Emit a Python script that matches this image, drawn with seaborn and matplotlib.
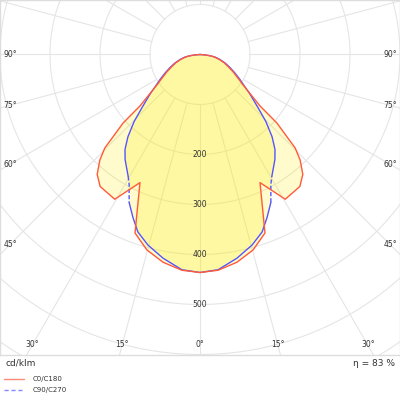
import numpy as np
import pandas as pd
import matplotlib
matplotlib.use("Agg")
import matplotlib.pyplot as plt
from matplotlib.lines import Line2D
import seaborn as sns

# Luminous intensity (cd/klm), gamma in degrees from nadir.
# Both planes look symmetric, so one half is listed and mirrored.
gamma_c0 = [0, 4.8, 10.1, 15.2, 20.0, 25.1, 30.5, 37.1, 40.6, 43.5, 45.5, 48.3, 49.4,
            55, 58, 62, 66.6, 71.2, 76, 80.5, 83.2, 85, 90]
cd_c0 = [436, 433, 422, 405, 380, 283, 336, 331, 316, 291, 267, 206, 158,
         104, 90, 76, 62, 51, 39, 28, 19, 9.5, 0]

gamma_c90 = [0, 4.8, 10.3, 15.3, 19.3, 22.3, 25.6, 28.6, 30.5, 35.5, 38.3, 41.2, 44.5,
             47.9, 51.7, 54.2, 58, 62.1, 66.6, 71.2, 76, 80.5, 83.2, 85, 90]
cd_c90 = [436, 432, 414, 395, 376, 353, 328, 296, 283, 258, 242, 219, 188,
          154, 127, 111, 94, 79, 65, 53, 41, 30, 20, 10, 0]

ring_values = [100, 200, 300, 400, 500, 600, 700]
ring_labels = [200, 300, 400, 500]
side_angles = [90, 75, 60, 45]
bottom_angles = [30, 15, 0]
eta = 83

RED = "#ff5a3c"
BLUE = "#5555ff"
GRID = "#e5e5e5"
TXT = "#333333"
# the long straight stretch of C90/C270 shows its dashes, the rest looks solid
C90_DASH_RANGE = (25, 31)


def to_xy(gamma, cd):
    g = np.radians(np.array(gamma, dtype=float))
    i = np.array(cd, dtype=float)
    x_right = i * np.sin(g)
    y = -i * np.cos(g)
    x = np.concatenate([-x_right[::-1], x_right[1:]])
    yy = np.concatenate([y[::-1], y[1:]])
    gg = np.concatenate([np.array(gamma)[::-1], np.array(gamma)[1:]])
    return pd.DataFrame({"x": x, "y": yy, "gamma": gg})


def split_segments(df, lo, hi):
    # one unit per run of segments; runs fully inside [lo, hi] are dashed
    rows = []
    seg = 0
    prev_kind = None
    for k in range(len(df) - 1):
        g0, g1 = df["gamma"].iloc[k], df["gamma"].iloc[k + 1]
        kind = "dash" if (lo <= g0 <= hi and lo <= g1 <= hi) else "solid"
        if kind != prev_kind:
            seg += 1
            rows.append({"x": df["x"].iloc[k], "y": df["y"].iloc[k], "seg": seg, "kind": kind})
        rows.append({"x": df["x"].iloc[k + 1], "y": df["y"].iloc[k + 1], "seg": seg, "kind": kind})
        prev_kind = kind
    return pd.DataFrame(rows)


sns.set_theme(style="white")
plt.rcParams["font.family"] = ["DejaVu Sans"]

fig = plt.figure(figsize=(4, 4), dpi=100)
ax = fig.add_axes([0.0, 0.1125, 1.0, 0.8875])
ax.set_xlim(-400, 400)
ax.set_ylim(-601, 109)
ax.set_xticks([])
ax.set_yticks([])
for s in ax.spines.values():
    s.set_color("#dddddd")
    s.set_linewidth(1)

# grid: rings and radial lines every 15 deg (starting at the first ring)
t = np.linspace(0, 2 * np.pi, 400)
for r in ring_values:
    ax.plot(r * np.cos(t), r * np.sin(t), color=GRID, lw=0.8, zorder=1)
for a in range(0, 360, 15):
    ar = np.radians(a)
    ax.plot([100 * np.sin(ar), 1200 * np.sin(ar)], [-100 * np.cos(ar), -1200 * np.cos(ar)],
            color=GRID, lw=0.8, zorder=1)

df_c0 = to_xy(gamma_c0, cd_c0)
df_c90 = to_xy(gamma_c90, cd_c90)

ax.fill(df_c0["x"], df_c0["y"], color="#ffee00", alpha=0.2, lw=0, zorder=2)
ax.fill(df_c90["x"], df_c90["y"], color="#ffee00", alpha=0.2, lw=0, zorder=2)

sns.lineplot(data=df_c0, x="x", y="y", sort=False, estimator=None, color=RED, lw=1,
             ax=ax, zorder=4)
seg_c90 = split_segments(df_c90, *C90_DASH_RANGE)
sns.lineplot(data=seg_c90, x="x", y="y", units="seg", style="kind", sort=False,
             estimator=None, color=BLUE, lw=1, ax=ax, zorder=3, legend=False,
             dashes={"solid": "", "dash": (3, 1.5)})
ax.set_xlabel("")
ax.set_ylabel("")

# labels
for r in ring_labels:
    ax.text(0, -r, str(r), ha="center", va="center", fontsize=5.5, color=TXT, zorder=5)
for a in side_angles:
    y = 0 if a == 90 else -380 / np.tan(np.radians(a))
    for sx in (-1, 1):
        ax.text(sx * 380, y, f"{a}°", ha="center", va="center", fontsize=5.5, color=TXT, zorder=5)
for a in bottom_angles:
    x = 581 * np.tan(np.radians(a))
    for sx in ((-1, 1) if a else (1,)):
        ax.text(sx * x, -581, f"{a}°", ha="center", va="center", fontsize=5.5, color=TXT, zorder=5)

fig.text(5 / 400, 1 - 363 / 400, "cd/klm", ha="left", va="center", fontsize=6.5, color=TXT)
fig.text(395 / 400, 1 - 363 / 400, f"η = {eta} %", ha="right", va="center", fontsize=6.5, color=TXT)

fig.add_artist(Line2D([4 / 400, 24 / 400], [1 - 379 / 400] * 2, color=RED, lw=1, alpha=0.7))
fig.add_artist(Line2D([4 / 400, 24 / 400], [1 - 390 / 400] * 2, color=BLUE, lw=1, alpha=0.7,
                      dashes=(3, 2)))
fig.text(33 / 400, 1 - 379 / 400, "C0/C180", ha="left", va="center", fontsize=5, color=TXT)
fig.text(33 / 400, 1 - 390 / 400, "C90/C270", ha="left", va="center", fontsize=5, color=TXT)

fig.savefig("out.png", dpi=100)
